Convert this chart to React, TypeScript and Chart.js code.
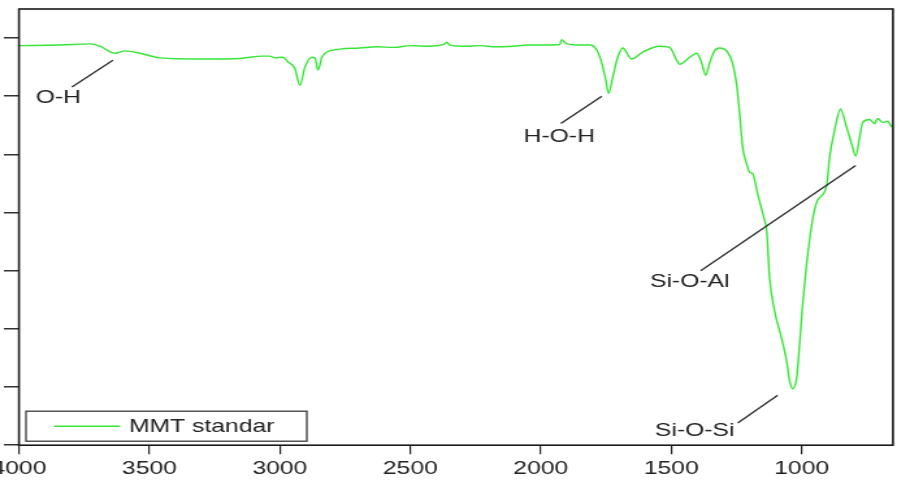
import React, { useEffect, useRef } from 'react';
import { Chart, registerables } from 'chart.js';

Chart.register(...registerables);

// ---- data (wavenumber cm-1, transmittance arbitrary %) ----
const WAVENUMBER = [
  4000, 3843, 3728, 3690, 3632, 3594, 3536, 3460, 3307, 3153, 3069, 3038, 3019, 2989, 2969, 2943, 2923,
  2904, 2877, 2866, 2854, 2839, 2820, 2770, 2694, 2628, 2560, 2502, 2430, 2368, 2360, 2349, 2290, 2234,
  2170, 2107, 2050, 2004, 1927, 1920, 1904, 1851, 1812, 1786, 1766, 1751, 1740, 1724, 1705, 1686, 1652,
  1609, 1544, 1506, 1479, 1468, 1429, 1402, 1383, 1368, 1353, 1334, 1314, 1284, 1265, 1249, 1238, 1226,
  1211, 1199, 1188, 1169, 1142, 1134, 1123, 1104, 1077, 1058, 1046, 1035, 1019, 1008, 996, 981, 970, 954,
  939, 904, 893, 874, 851, 828, 809, 793, 778, 766, 740, 720, 709, 690, 671, 655,
];
const TRANSMITTANCE = [
  68.7, 68.8, 69.0, 68.6, 67.4, 67.8, 67.4, 66.6, 66.4, 66.5, 66.9, 66.9, 66.6, 66.7, 65.9, 64.8, 61.9,
  65.0, 66.7, 66.6, 64.5, 66.7, 67.6, 68.1, 68.3, 68.5, 68.4, 68.7, 68.6, 69.0, 69.3, 68.8, 68.6, 68.7,
  68.5, 68.6, 68.8, 68.8, 68.9, 69.7, 69.1, 68.8, 68.8, 68.0, 65.7, 62.8, 60.5, 63.3, 66.7, 68.3, 66.4,
  67.6, 68.6, 68.4, 66.2, 65.5, 66.7, 67.4, 65.7, 63.6, 65.7, 67.8, 68.3, 67.6, 65.7, 61.9, 57.1, 51.2,
  48.4, 46.9, 46.7, 43.3, 38.6, 36.9, 28.8, 23.1, 18.4, 14.5, 11.0, 9.7, 11.6, 17.4, 24.3, 31.2, 35.2, 39.8,
  42.1, 44.7, 49.5, 54.1, 57.8, 54.7, 51.9, 49.7, 52.9, 55.5, 56.0, 55.3, 56.2, 55.5, 55.7, 54.7,
];
const SERIES_LABEL = 'MMT standar';
const X_TICKS = [4000, 3500, 3000, 2500, 2000, 1500, 1000];
const Y_TICKS = [0, 10, 20, 30, 40, 50, 60, 70];

// annotations (text anchor and leader line, in data units)
const ANNOT_LABELS = ['O-H', 'H-O-H', 'Si-O-Al', 'Si-O-Si'];
const ANNOT_TEXT_X = [3849, 1929, 1429, 1410];
const ANNOT_TEXT_Y = [59.7, 53.1, 28.1, 2.4];
const ANNOT_LINE_X1 = [3797, 1923, 1387, 1245];
const ANNOT_LINE_Y1 = [61.6, 55.3, 30.0, 3.8];
const ANNOT_LINE_X2 = [3640, 1766, 793, 1092];
const ANNOT_LINE_Y2 = [66.2, 60.0, 48.1, 8.6];

const SX = 1.3; // horizontal stretch of the original picture
const FONT = '"Liberation Sans", Arial, sans-serif';
const GREEN = '#35e635';

const overlay = {
  id: 'overlay',
  afterDatasetsDraw(chart: any) {
    const { ctx, chartArea, scales } = chart;
    const xs = scales.x;
    const ys = scales.y;
    ctx.save();
    // frame
    ctx.strokeStyle = '#1a1a1a';
    ctx.lineWidth = 1.6;
    ctx.strokeRect(chartArea.left, chartArea.top, chartArea.right - chartArea.left, chartArea.bottom - chartArea.top);

    // annotations
    ctx.strokeStyle = '#2a2a2a';
    ctx.lineWidth = 1.3;
    ctx.fillStyle = '#222';
    ctx.font = `19px ${FONT}`;
    ctx.textAlign = 'center';
    ctx.textBaseline = 'middle';
    ANNOT_LABELS.forEach((lab, i) => {
      ctx.beginPath();
      ctx.moveTo(xs.getPixelForValue(ANNOT_LINE_X1[i]), ys.getPixelForValue(ANNOT_LINE_Y1[i]));
      ctx.lineTo(xs.getPixelForValue(ANNOT_LINE_X2[i]), ys.getPixelForValue(ANNOT_LINE_Y2[i]));
      ctx.stroke();
      ctx.fillText(lab, xs.getPixelForValue(ANNOT_TEXT_X[i]), ys.getPixelForValue(ANNOT_TEXT_Y[i]));
    });

    // legend box
    const bx = chartArea.left + 5.4;
    const bw = 216;
    const bh = 30;
    const by = chartArea.bottom - 4 - bh;
    ctx.fillStyle = '#fff';
    ctx.fillRect(bx, by, bw, bh);
    ctx.strokeStyle = '#3a3a3a';
    ctx.lineWidth = 1.3;
    ctx.strokeRect(bx, by, bw, bh);
    const cy = by + bh / 2;
    ctx.strokeStyle = GREEN;
    ctx.lineWidth = 1.4;
    ctx.beginPath();
    ctx.moveTo(chartArea.left + 26.9, cy);
    ctx.lineTo(chartArea.left + 77.7, cy);
    ctx.stroke();
    ctx.fillStyle = '#222';
    ctx.textAlign = 'left';
    ctx.fillText(chart.data.datasets[0].label, chartArea.left + 84.6, cy + 0.5);
    ctx.restore();
  },
};

export default function App() {
  const ref = useRef<HTMLCanvasElement>(null);
  useEffect(() => {
    if (!ref.current) return;
    const chart = new Chart(ref.current, {
      type: 'line',
      data: {
        datasets: [
          {
            label: SERIES_LABEL,
            data: WAVENUMBER.map((w, i) => ({ x: w, y: TRANSMITTANCE[i] })),
            borderColor: GREEN,
            borderWidth: 1.4,
            pointRadius: 0,
            cubicInterpolationMode: 'monotone',
            fill: false,
          },
        ],
      },
      options: {
        animation: false,
        responsive: false,
        devicePixelRatio: 1,
        layout: { autoPadding: false, padding: { left: 3, right: 6.1, top: 9, bottom: 2 } },
        plugins: { legend: { display: false }, tooltip: { enabled: false } },
        scales: {
          x: {
            type: 'linear',
            reverse: true,
            min: 650,
            max: 4000,
            afterBuildTicks: (s: any) => {
              s.ticks = X_TICKS.map((v) => ({ value: v }));
            },
            afterFit: (s: any) => {
              s.paddingLeft = 0;
              s.paddingRight = 0;
            },
            border: { display: false },
            grid: { drawOnChartArea: false, tickLength: 9, tickColor: '#222', lineWidth: 1.2 },
            ticks: {
              autoSkip: false,
              maxRotation: 0,
              padding: 3,
              color: '#222',
              font: { family: FONT, size: 19 },
              callback: (v: any) => String(v),
            },
          },
          y: {
            type: 'linear',
            min: 0,
            max: 75,
            afterBuildTicks: (s: any) => {
              s.ticks = Y_TICKS.map((v) => ({ value: v }));
            },
            afterFit: (s: any) => {
              s.width = 11.6;
              s.paddingTop = 0;
              s.paddingBottom = 0;
            },
            border: { display: false },
            grid: { drawOnChartArea: false, tickLength: 11.6, tickColor: '#333', lineWidth: 1.5 },
            ticks: { display: false },
          },
        },
      },
      plugins: [overlay],
    });
    return () => chart.destroy();
  }, []);
  return (
    <div style={{ position: 'fixed', left: 0, top: 0, width: 901, height: 485, overflow: 'hidden', background: '#fff' }}>
      <canvas
        ref={ref}
        width={693}
        height={485}
        style={{ display: 'block', transform: `scaleX(${SX})`, transformOrigin: '0 0' }}
      />
    </div>
  );
}
